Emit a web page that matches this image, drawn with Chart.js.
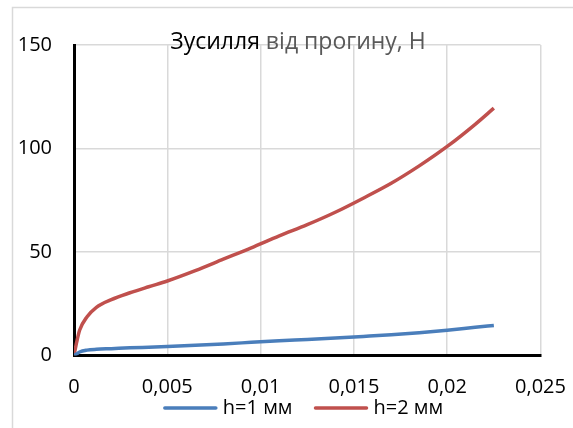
<!DOCTYPE html>
<html>
<head>
<meta charset="utf-8">
<script src="https://cdn.jsdelivr.net/npm/chart.js@4.4.1/dist/chart.umd.min.js"></script>
<style>
  html, body { margin: 0; padding: 0; background: #fff; }
  #wrap { position: relative; width: 573px; height: 428px; overflow: hidden; }
</style>
</head>
<body>
<div id="wrap"><canvas id="chart" width="573" height="428"></canvas></div>
<script>
// прогин, м
const deflection = [0, 0.00015, 0.0003, 0.0007, 0.0012, 0.002, 0.003, 0.004, 0.005, 0.0065, 0.008,
  0.0095, 0.011, 0.0125, 0.014, 0.0155, 0.017, 0.0185, 0.02, 0.0215, 0.0225];
// зусилля, Н
const forceH1 = [0, 0.8, 1.7, 2.6, 3.0, 3.3, 3.7, 4.0, 4.3, 4.9, 5.6,
  6.35, 7.1, 7.75, 8.45, 9.2, 10.0, 11.0, 12.2, 13.6, 14.5];
const forceH2 = [0, 6.7, 12.2, 18.7, 23.3, 27.0, 30.3, 33.2, 36.0, 41.0, 46.5,
  52.0, 57.8, 63.2, 69.2, 76.0, 83.2, 91.6, 101.0, 111.7, 119.5];

const seriesNames = ["h=1 мм", "h=2 мм"];
const seriesColors = ["#4a7ebb", "#c0504d"];
const xTickLabels = ["0", "0,005", "0,01", "0,015", "0,02", "0,025"];
const yTickLabels = ["0", "50", "100", "150"];
const titleParts = ["Зусилля", " від прогину, Н"];

const FONT = "'Open Sans'";

const toPoints = (ys) => deflection.map((x, i) => ({ x, y: ys[i] }));

// light frame of the chart area, two-colour title and the legend
const decor = {
  id: "decor",
  beforeDraw(chart) {
    const ctx = chart.ctx;
    ctx.save();
    ctx.strokeStyle = "#d9d9d9";
    ctx.lineWidth = 1.5;
    ctx.beginPath();
    ctx.moveTo(12.5, chart.height);
    ctx.lineTo(12.5, 7.5);
    ctx.lineTo(chart.width, 7.5);
    ctx.stroke();
    ctx.restore();
  },
  afterDraw(chart) {
    const ctx = chart.ctx;
    ctx.save();
    ctx.font = "23px " + FONT;
    ctx.textBaseline = "alphabetic";
    const w0 = ctx.measureText(titleParts[0]).width;
    const w1 = ctx.measureText(titleParts[1]).width;
    const x = 298 - (w0 + w1) / 2;
    ctx.fillStyle = "#000";
    ctx.fillText(titleParts[0], x, 48.5);
    ctx.fillStyle = "#595959";
    ctx.fillText(titleParts[1], x + w0, 48.5);

    // legend
    ctx.font = "20px " + FONT;
    const lineLen = 53, gap = 6, itemGap = 22, ly = 408;
    const items = chart.data.datasets.map((d) => ({
      text: d.label, color: d.borderColor, w: lineLen + gap + ctx.measureText(d.label).width
    }));
    const total = items.reduce((s, it) => s + it.w, 0) + itemGap * (items.length - 1);
    let lx = 303.5 - total / 2;
    ctx.textBaseline = "middle";
    items.forEach((it) => {
      ctx.strokeStyle = it.color;
      ctx.lineWidth = 3.5;
      ctx.lineCap = "round";
      ctx.beginPath();
      ctx.moveTo(lx + 1, ly);
      ctx.lineTo(lx + lineLen - 1, ly);
      ctx.stroke();
      ctx.fillStyle = "#000";
      ctx.fillText(it.text, lx + lineLen + gap, ly);
      lx += it.w + itemGap;
    });
    ctx.restore();
  }
};

new Chart(document.getElementById("chart"), {
  type: "line",
  data: {
    datasets: [
      {
        label: seriesNames[0],
        data: toPoints(forceH1),
        borderColor: seriesColors[0],
        backgroundColor: seriesColors[0],
        borderWidth: 3.5,
        pointRadius: 0,
        cubicInterpolationMode: "monotone"
      },
      {
        label: seriesNames[1],
        data: toPoints(forceH2),
        borderColor: seriesColors[1],
        backgroundColor: seriesColors[1],
        borderWidth: 3.5,
        pointRadius: 0,
        cubicInterpolationMode: "monotone"
      }
    ]
  },
  options: {
    responsive: false,
    animation: false,
    devicePixelRatio: 1,
    layout: { padding: { top: 45, right: 32.5, left: 0, bottom: 0 } },
    plugins: {
      title: { display: false },
      tooltip: { enabled: false },
      legend: { display: false }
    },
    scales: {
      x: {
        type: "linear",
        min: 0,
        max: 0.025,
        grid: { color: "#d9d9d9", lineWidth: 1.5, drawTicks: false },
        border: { color: "#000", width: 3 },
        afterFit(scale) {
          scale.height = 72.5;
          scale.paddingLeft = 0;
          scale.paddingRight = 0;
        },
        ticks: {
          stepSize: 0.005,
          padding: 20,
          color: "#000",
          font: { family: FONT, size: 20 },
          maxRotation: 0,
          callback: (v) => xTickLabels[Math.round(v / 0.005)]
        }
      },
      y: {
        min: 0,
        max: 150,
        grid: { color: "#d9d9d9", lineWidth: 1.5, drawTicks: false },
        border: { color: "#000", width: 3 },
        afterFit(scale) {
          scale.width = 74;
          scale.paddingTop = 0;
          scale.paddingBottom = 0;
        },
        ticks: {
          stepSize: 50,
          padding: 22,
          color: "#000",
          font: { family: FONT, size: 20 },
          callback: (v) => yTickLabels[Math.round(v / 50)]
        }
      }
    }
  },
  plugins: [decor]
});
</script>
</body>
</html>
